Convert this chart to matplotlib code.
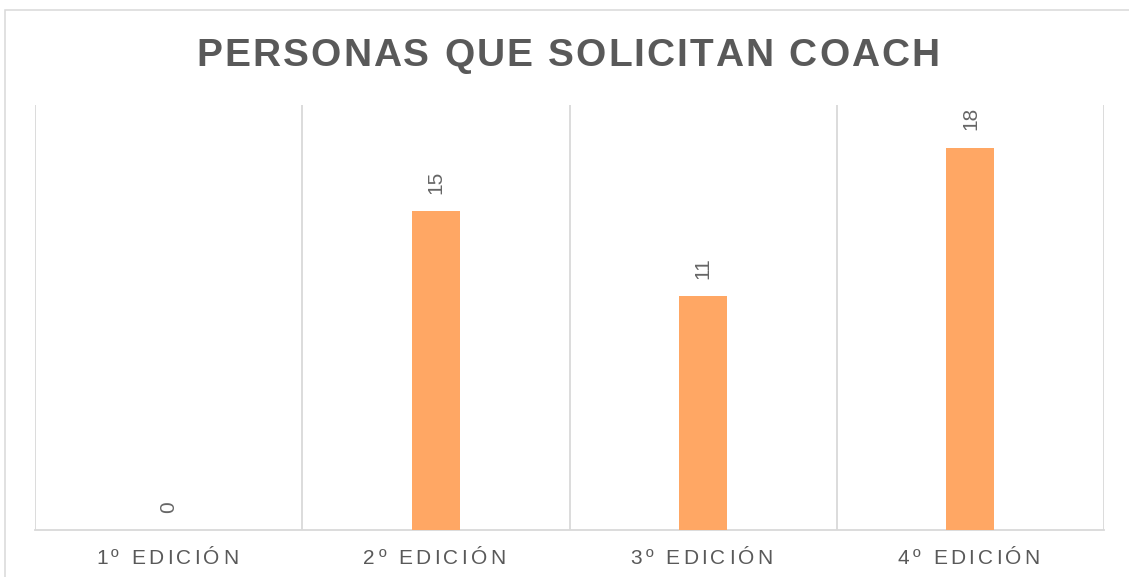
import matplotlib
matplotlib.use("Agg")
import matplotlib.pyplot as plt
from matplotlib.font_manager import FontProperties, findfont
from matplotlib.ft2font import FT2Font
from matplotlib.transforms import ScaledTranslation
from matplotlib.patches import Rectangle

title = "PERSONAS QUE SOLICITAN COACH"
categories = ["1º EDICIÓN", "2º EDICIÓN", "3º EDICIÓN", "4º EDICIÓN"]
values = [0, 15, 11, 18]

W, H, DPI = 1129, 577, 100
TEXT = "#595959"
LABEL = "#666666"
GRID = "#D9D9D9"
BAR = "#FFA764"
FAMILY = "Liberation Sans"

plt.rcParams["font.family"] = [FAMILY, "DejaVu Sans"]

fig = plt.figure(figsize=(W / DPI, H / DPI), dpi=DPI)
fig.patch.set_facecolor("white")

# outer chart frame (extends beyond right/bottom edges)
fig.add_artist(Rectangle((5 / W, -0.2), 1.5, 1 - 10 / H + 0.2, transform=fig.transFigure,
                         fill=False, edgecolor=GRID, linewidth=1.1, zorder=0))

ax = fig.add_axes([35 / W, 1 - 530 / H, (1104 - 35) / W, (530 - 105) / H])
x = list(range(len(categories)))
ax.bar(x, values, width=0.18, color=BAR, zorder=3)
ax.set_xlim(-0.5, len(categories) - 0.5)
ax.set_ylim(0, 20)
for s in ["top", "right", "left"]:
    ax.spines[s].set_visible(False)
ax.spines["bottom"].set_color(GRID)
ax.spines["bottom"].set_linewidth(1.3)
ax.set_yticks([])
ax.set_xticks([])
for b in [i - 0.5 for i in range(len(categories) + 1)]:
    ax.axvline(b, color=GRID, linewidth=1.3, zorder=1)

for xi, v in zip(x, values):
    ax.annotate(str(v), (xi, v), xytext=(0, 12.5), textcoords="offset points",
                rotation=90, ha="center", va="bottom", fontsize=15,
                color=LABEL, family=FAMILY)


def advances(s, size, weight):
    prop = FontProperties(family=FAMILY, weight=weight, size=size)
    font = FT2Font(findfont(prop))
    font.set_size(size, 72)
    out = []
    for ch in s:
        g = font.load_char(ord(ch))
        out.append(g.linearHoriAdvance / 65536.0)
    return out


def spaced_text(x, y, s, transform, size, spacing, weight="normal", dy_pt=0):
    adv = advances(s, size, weight)
    total = sum(adv) + spacing * (len(s) - 1)
    pen = -total / 2
    for ch, a in zip(s, adv):
        if ch != " ":
            off = ScaledTranslation((pen + a / 2) / 72, dy_pt / 72, fig.dpi_scale_trans)
            fig.text(x, y, ch, transform=transform + off, ha="center", va="baseline",
                     fontsize=size, fontweight=weight, color=TEXT, family=FAMILY)
        pen += a + spacing


spaced_text(568 / W, 1 - 66 / H, title, fig.transFigure, 28, 1.5, weight="bold")

for xi, c in zip(x, categories):
    spaced_text(xi - 0.006, 0, c, ax.get_xaxis_transform(), 15, 2.4, dy_pt=-34 * 72 / DPI)

fig.savefig("out.png", dpi=DPI)
